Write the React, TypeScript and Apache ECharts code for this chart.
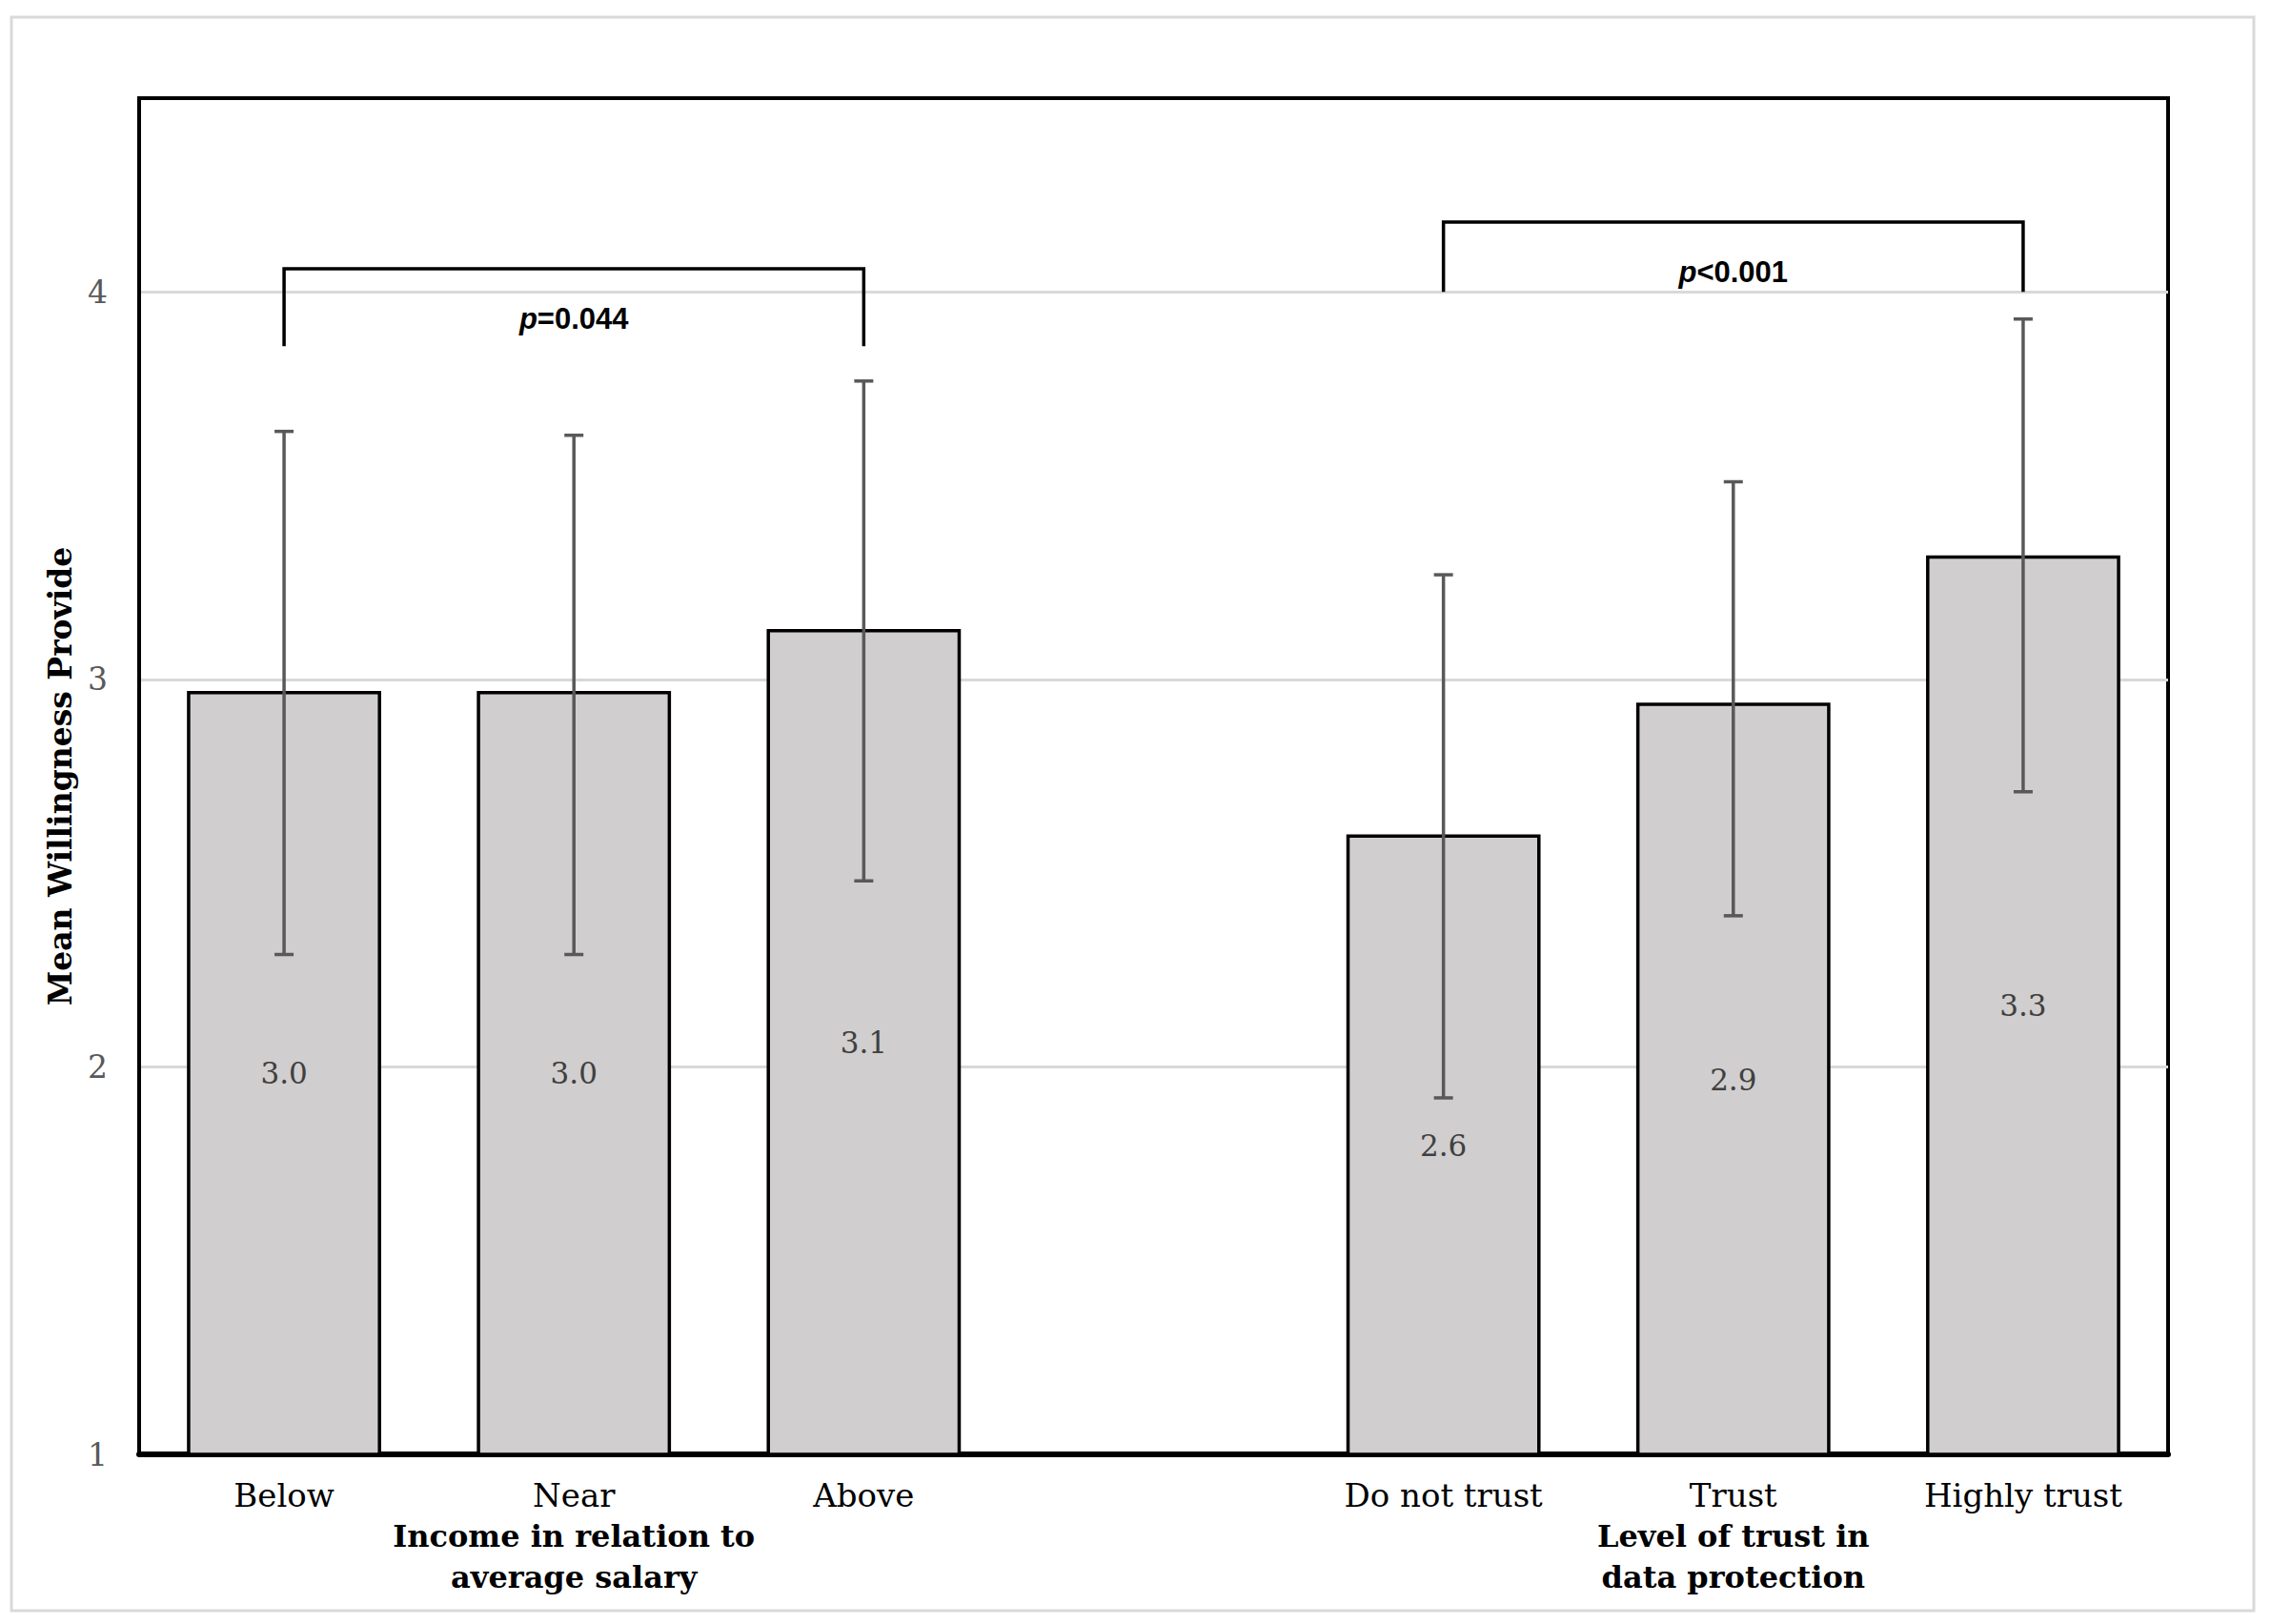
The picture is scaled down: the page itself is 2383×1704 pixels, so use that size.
import React, { useEffect, useRef } from "react";
import * as echarts from "echarts";

const categories = ["Below", "Near", "Above", "", "Do not trust", "Trust", "Highly trust"];
const meanValues: (number | null)[] = [2.97, 2.97, 3.13, null, 2.6, 2.94, 3.32];
const errorLow: (number | null)[] = [2.29, 2.29, 2.48, null, 1.92, 2.39, 2.71];
const errorHigh: (number | null)[] = [3.64, 3.63, 3.77, null, 3.27, 3.51, 3.93];
const groupTitleAt = [1, 5];
const groupTitles = [
  ["Income in relation to", "average salary"],
  ["Level of trust in", "data protection"],
];
const bracketStart = [0, 4];
const bracketEnd = [2, 6];
const bracketTop = [4.06, 4.18];
const bracketFoot = [3.86, 4.0];
const bracketLabels = ["p=0.044", "p<0.001"];
const bracketLabelY = [3.93, 4.05];
const yMin = 1;
const yMax = 4.5;
const yStep = 1;
const yTitle = "Mean Willingness Provide";

const SERIF = "'DejaVu Serif', 'Liberation Serif', serif";
const SANS = "'Liberation Sans', Arial, sans-serif";

export default function App() {
  const ref = useRef<HTMLDivElement>(null);
  useEffect(() => {
    if (!ref.current) return;
    const chart = echarts.init(ref.current, undefined, { renderer: "svg" });

    const errData: number[][] = [];
    categories.forEach((_, i) => {
      if (errorLow[i] != null && errorHigh[i] != null) errData.push([i, errorLow[i] as number, errorHigh[i] as number]);
    });
    const bracketData = bracketStart.map((s, i) => [s, bracketEnd[i], bracketTop[i], bracketFoot[i], bracketLabelY[i]]);

    chart.setOption({
      animation: false,
      backgroundColor: "#ffffff",
      grid: {
        left: 146,
        right: 108,
        top: 103,
        bottom: 178,
        show: true,
        borderColor: "#000000",
        borderWidth: 4,
        backgroundColor: "transparent",
      },
      graphic: [
        {
          type: "rect",
          shape: { x: 12, y: 18, width: 2353, height: 1672 },
          style: { fill: "none", stroke: "#d9d9d9", lineWidth: 3 },
          silent: true,
          z: -10,
        },
      ],
      xAxis: {
        type: "category",
        data: categories,
        axisTick: { show: false },
        axisLine: { show: true, lineStyle: { color: "#000000", width: 6 } },
        splitLine: { show: false },
        axisLabel: {
          interval: 0,
          margin: 21,
          formatter: (v: string, idx: number) => {
            const g = groupTitleAt.indexOf(idx);
            if (g < 0) return `{c|${v}}`;
            return [`{c|${v}}`, ...groupTitles[g].map((t) => `{t|${t}}`)].join("\n");
          },
          rich: {
            c: { fontFamily: SERIF, fontSize: 34, color: "#000000", lineHeight: 43 },
            t: { fontFamily: SERIF, fontSize: 32, fontWeight: "bold", color: "#000000", lineHeight: 43 },
          },
        },
      },
      yAxis: {
        type: "value",
        min: yMin,
        max: yMax,
        interval: yStep,
        name: yTitle,
        nameLocation: "middle",
        nameGap: 66,
        nameTextStyle: { fontFamily: SERIF, fontSize: 33, fontWeight: "bold", color: "#000000" },
        axisLine: { show: true, lineStyle: { color: "#000000", width: 4 } },
        axisTick: { show: false },
        axisLabel: {
          margin: 33,
          showMaxLabel: false,
          fontFamily: SERIF,
          fontSize: 33,
          color: "#595959",
          formatter: (v: number) => (Number.isInteger(v) ? String(v) : ""),
        },
        splitLine: { show: true, showMaxLine: false, showMinLine: false, lineStyle: { color: "#d9d9d9", width: 3 } },
      },
      series: [
        {
          type: "bar",
          data: meanValues,
          barWidth: "67%",
          itemStyle: { color: "#d0cece", borderColor: "#000000", borderWidth: 3.5 },
          label: {
            show: true,
            position: "inside",
            fontFamily: SERIF,
            fontSize: 31,
            color: "#404040",
            formatter: (p: any) => (p.value == null ? "" : Number(p.value).toFixed(1)),
          },
          z: 2,
        },
        {
          type: "custom",
          data: errData,
          encode: { x: 0, y: [1, 2] },
          z: 5,
          renderItem: (params: any, api: any) => {
            const x = api.value(0);
            const lo = api.coord([x, api.value(1)]);
            const hi = api.coord([x, api.value(2)]);
            const half = 10;
            const st = { stroke: "#595959", lineWidth: 3.5 };
            return {
              type: "group",
              children: [
                { type: "line", shape: { x1: lo[0], y1: lo[1], x2: hi[0], y2: hi[1] }, style: st },
                { type: "line", shape: { x1: lo[0] - half, y1: lo[1], x2: lo[0] + half, y2: lo[1] }, style: st },
                { type: "line", shape: { x1: hi[0] - half, y1: hi[1], x2: hi[0] + half, y2: hi[1] }, style: st },
              ],
            };
          },
        },
        {
          type: "custom",
          data: bracketData,
          encode: { x: [0, 1], y: [2, 3] },
          z: 6,
          renderItem: (params: any, api: any) => {
            const i = params.dataIndex;
            const a = api.value(0);
            const b = api.value(1);
            const top = api.value(2);
            const foot = api.value(3);
            const p1 = api.coord([a, foot]);
            const p2 = api.coord([a, top]);
            const p3 = api.coord([b, top]);
            const p4 = api.coord([b, foot]);
            const tp = api.coord([a, api.value(4)]);
            const cx = (p2[0] + p3[0]) / 2;
            const lbl = bracketLabels[i];
            return {
              type: "group",
              children: [
                {
                  type: "polyline",
                  shape: { points: [p1, p2, p3, p4] },
                  style: { stroke: "#000000", lineWidth: 3.5, fill: "none" },
                },
                {
                  type: "text",
                  x: cx,
                  y: tp[1],
                  style: {
                    text: `{i|${lbl.slice(0, 1)}}{n|${lbl.slice(1)}}`,
                    align: "center",
                    verticalAlign: "middle",
                    rich: {
                      i: { fontFamily: SANS, fontSize: 31, fontWeight: "bold", fontStyle: "italic", fill: "#000000" },
                      n: { fontFamily: SANS, fontSize: 31, fontWeight: "bold", fill: "#000000" },
                    },
                  },
                },
              ],
            };
          },
        },
      ],
    });
    return () => chart.dispose();
  }, []);
  return (
    <div
      ref={ref}
      style={{ position: "absolute", left: 0, top: 0, width: 2383, height: 1704, background: "#ffffff" }}
    />
  );
}
